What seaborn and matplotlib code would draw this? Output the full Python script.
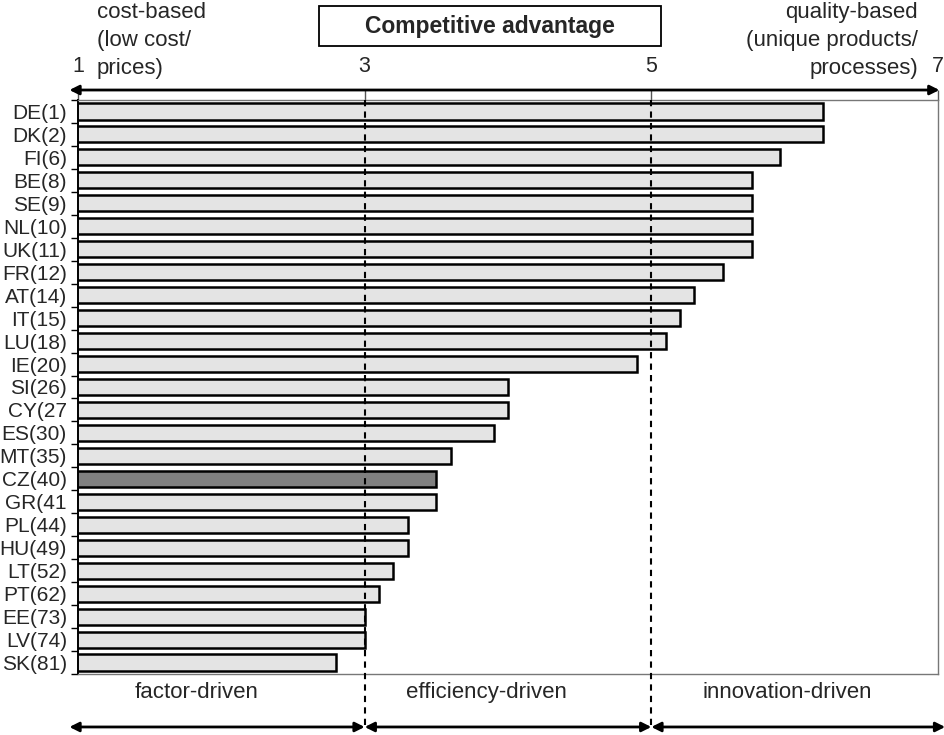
import matplotlib
matplotlib.use("Agg")
import matplotlib.pyplot as plt
import matplotlib.patches as mpatches
from matplotlib.ticker import FixedLocator
import numpy as np
import seaborn as sns

# data
countries = ["DE(1)", "DK(2)", "FI(6)", "BE(8)", "SE(9)", "NL(10)", "UK(11)", "FR(12)",
             "AT(14)", "IT(15)", "LU(18)", "IE(20)", "SI(26)", "CY(27", "ES(30)", "MT(35)",
             "CZ(40)", "GR(41", "PL(44)", "HU(49)", "LT(52)", "PT(62)", "EE(73)", "LV(74)",
             "SK(81)"]
scores = [6.2, 6.2, 5.9, 5.7, 5.7, 5.7, 5.7, 5.5, 5.3, 5.2, 5.1, 4.9, 4.0, 4.0, 3.9, 3.6,
          3.5, 3.5, 3.3, 3.3, 3.2, 3.1, 3.0, 3.0, 2.8]
highlight = "CZ(40)"
axis_ticks = [1, 3, 5, 7]
stage_bounds = [3, 5]
stages = ["factor-driven", "efficiency-driven", "innovation-driven"]

sns.set_style("white")
plt.rcParams["font.family"] = ["Liberation Sans", "DejaVu Sans"]

W, H = 945, 735
fig = plt.figure(figsize=(W / 100, H / 100), dpi=100)
# axes box in pixels: left 78, right 938, top 100, bottom 674
ax = fig.add_axes([78 / W, 1 - 674 / H, 860 / W, 574 / H])

colors = {c: ("#808080" if c == highlight else "#e4e4e4") for c in countries}
sns.barplot(x=scores, y=countries, hue=countries, palette=colors, legend=False,
            orient="h", width=0.7, edgecolor="black", linewidth=1.8, ax=ax)

ax.set_xlim(axis_ticks[0], axis_ticks[-1])
ax.set_ylim(len(countries) - 0.5, -0.5)
ax.set_xlabel("")
ax.set_ylabel("")

# spines
ax.spines["left"].set_color("black")
ax.spines["left"].set_linewidth(1.4)
for s in ["top", "right", "bottom"]:
    ax.spines[s].set_color("#777777")
    ax.spines[s].set_linewidth(1.0)

# x ticks only on top, labels drawn by hand above the arrow
ax.set_xticks(axis_ticks)
ax.tick_params(axis="x", top=True, bottom=False, labelbottom=False, labeltop=False,
               direction="out", length=7, width=1, color="#555555")
# y ticks between categories
ax.yaxis.set_minor_locator(FixedLocator(np.arange(-0.5, len(countries), 1)))
ax.tick_params(axis="y", which="major", length=0, pad=8, labelsize=15)
ax.tick_params(axis="y", which="minor", left=True, length=5, width=1, color="black")

xt = ax.get_xaxis_transform()

# dashed stage boundaries
for b in stage_bounds:
    ax.plot([b, b], [1.0, -0.0923], transform=xt, color="black", lw=1.5,
            ls=(0, (3, 2.5)), clip_on=False, zorder=5)

# top arrow with scale labels
ax.annotate("", xy=(0.94, 1.0174), xytext=(7.01, 1.0174), xycoords=xt, textcoords=xt,
            arrowprops=dict(arrowstyle="<|-|>", color="black", lw=2, mutation_scale=14,
                            shrinkA=0, shrinkB=0), annotation_clip=False)
for t in axis_ticks:
    ax.text(t, 1.058, str(t), transform=xt, ha="center", va="center", fontsize=15.5)

# bottom stage arrows and labels
arrow_ends = [0.94] + stage_bounds + [7.05]
for i in range(len(stages)):
    ax.annotate("", xy=(arrow_ends[i], -0.0923), xytext=(arrow_ends[i + 1], -0.0923),
                xycoords=xt, textcoords=xt,
                arrowprops=dict(arrowstyle="<|-|>", color="black", lw=2, mutation_scale=14,
                                shrinkA=0, shrinkB=0), annotation_clip=False)
label_x = [1.83, 3.85, 5.95]
for lx, s in zip(label_x, stages):
    ax.text(lx, -0.033, s, transform=xt, ha="center", va="center", fontsize=16)

# header texts
fig.text(97 / W, 1 - 2 / H, "cost-based\n(low cost/\nprices)", ha="left", va="top",
         fontsize=16, linespacing=1.45)
fig.text(918 / W, 1 - 2 / H, "quality-based\n(unique products/\nprocesses)", ha="right",
         va="top", fontsize=16, linespacing=1.45, multialignment="right")

box = mpatches.Rectangle((319 / W, 1 - 46 / H), 342 / W, 40 / H, transform=fig.transFigure,
                         facecolor="white", edgecolor="black", lw=1.3)
fig.add_artist(box)
fig.text(490 / W, 1 - 27 / H, "Competitive advantage", ha="center", va="center",
         fontsize=16.5, fontweight="bold")

fig.savefig("out.png", dpi=100)
